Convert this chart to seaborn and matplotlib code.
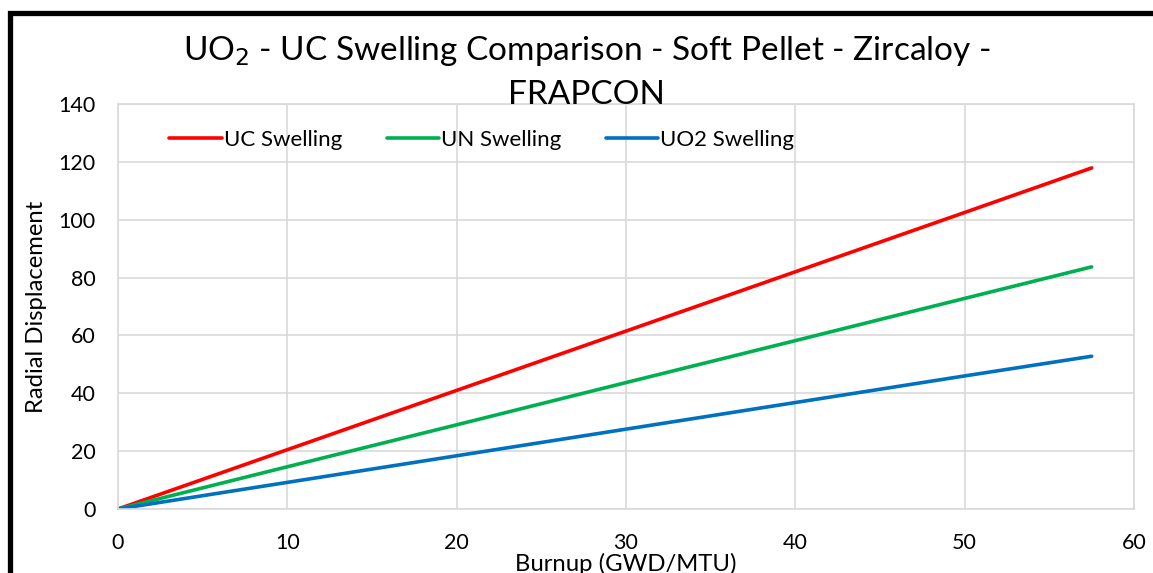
import pandas as pd
import seaborn as sns
import matplotlib.pyplot as plt
from matplotlib.patches import Rectangle

# values
burnup = [0, 10, 20, 30, 40, 50, 57.5]
uc_swelling = [0, 20.5, 41.0, 61.5, 82.0, 102.5, 117.9]
un_swelling = [0, 14.6, 29.1, 43.7, 58.2, 72.8, 83.7]
uo2_swelling = [0, 9.2, 18.4, 27.6, 36.8, 46.0, 52.8]
series_names = ['UC Swelling', 'UN Swelling', 'UO2 Swelling']

df = pd.DataFrame({'burnup': burnup,
                   'UC Swelling': uc_swelling,
                   'UN Swelling': un_swelling,
                   'UO2 Swelling': uo2_swelling})
long_df = df.melt(id_vars='burnup', var_name='series', value_name='disp')

sns.set_style('white')
plt.rcParams['font.family'] = ['Lato', 'DejaVu Sans']
plt.rcParams['text.color'] = 'black'
plt.rcParams['axes.labelcolor'] = 'black'
plt.rcParams['xtick.color'] = 'black'
plt.rcParams['ytick.color'] = 'black'

colors = {'UC Swelling': '#ff0000', 'UN Swelling': '#00b050', 'UO2 Swelling': '#0070c0'}

fig = plt.figure(figsize=(11.53, 5.73), dpi=100)
ax = fig.add_axes([118 / 1153, 1 - 509 / 573, (1134 - 118) / 1153, (509 - 104) / 573])

sns.lineplot(data=long_df, x='burnup', y='disp', hue='series', hue_order=series_names,
             palette=colors, linewidth=2.6, ax=ax, legend=True)

ax.set_xlim(0, 60)
ax.set_ylim(0, 140)
ax.set_xticks(range(0, 61, 10))
ax.set_yticks(range(0, 141, 20))
ax.grid(True, color='#d9d9d9', linewidth=1.2)
for s in ax.spines.values():
    s.set_color('#d9d9d9')
    s.set_linewidth(1.2)
ax.tick_params(axis='y', length=0, labelsize=15.5, pad=16)
ax.tick_params(axis='x', length=0, labelsize=15.5, pad=17)

ax.set_xlabel('Burnup (GWD/MTU)', fontsize=17.2, labelpad=0)
ax.set_ylabel('Radial Displacement', fontsize=17.2, labelpad=8)

ax.legend(loc='upper left', bbox_to_anchor=(0.031, 0.985), ncol=3, frameon=False,
          fontsize=16, handlelength=2.35, columnspacing=2.0, handletextpad=0.1)

fig.text(0.509, 0.94, 'UO$_2$ - UC Swelling Comparison - Soft Pellet - Zircaloy -\nFRAPCON',
         ha='center', va='top', fontsize=24, linespacing=1.5)

# black frame around the chart
fig.patches.append(Rectangle((10 / 1153, -0.1), 1.2, 1 - 13 / 573 + 0.1,
                             transform=fig.transFigure, fill=False,
                             edgecolor='black', linewidth=3.8))

plt.savefig('out.png', dpi=100)
